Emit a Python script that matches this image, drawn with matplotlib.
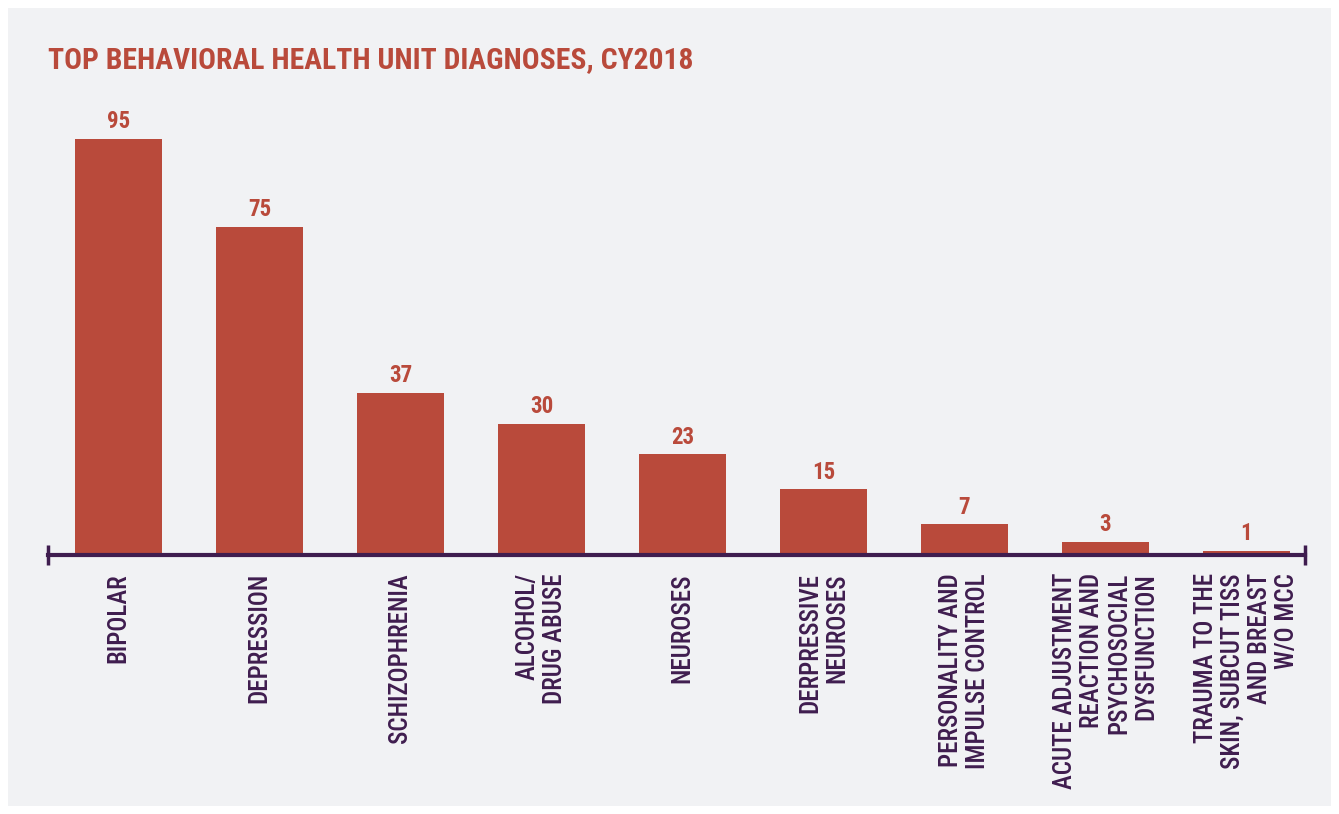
import matplotlib
matplotlib.use('Agg')
import matplotlib.pyplot as plt
from matplotlib.patches import Rectangle

# data
categories = ['BIPOLAR', 'DEPRESSION', 'SCHIZOPHRENIA', 'ALCOHOL/\nDRUG ABUSE', 'NEUROSES',
              'DERPRESSIVE\nNEUROSES', 'PERSONALITY AND\nIMPULSE CONTROL',
              'ACUTE ADJUSTMENT\nREACTION AND\nPSYCHOSOCIAL\nDYSFUNCTION',
              'TRAUMA TO THE\nSKIN, SUBCUT TISS\nAND BREAST\nW/O MCC']
values = [95, 75, 37, 30, 23, 15, 7, 3, 1]
title = 'TOP BEHAVIORAL HEALTH UNIT DIAGNOSES, CY2018'

red = '#B94A3B'
purple = '#3F1D4F'
panel = '#F1F2F4'

plt.rcParams['font.family'] = ['Roboto Condensed', 'DejaVu Sans']
plt.rcParams['font.stretch'] = 'condensed'

fig = plt.figure(figsize=(13.39, 8.14), dpi=100)
fig.patch.set_facecolor('white')
fig.patches.append(Rectangle((8/1339, 8/814), 1323/1339, 798/814, transform=fig.transFigure,
                             facecolor=panel, edgecolor='none', zorder=-10))

fig.text(48/1339, 1 - 60/814, title, color=red, fontsize=21.3, fontweight='bold', va='center', ha='left')

ax = fig.add_axes([48/1339, (814-555)/814, (1305-48)/1339, (555-117)/814])
ax.patch.set_alpha(0)
x = list(range(len(values)))
ax.bar(x, values, width=0.617, color=red, zorder=2)
for xi, v in zip(x, values):
    ax.text(xi, v + 1.3, str(v), ha='center', va='bottom', color=red, fontsize=16.5, fontweight='bold')

ax.set_xlim(-0.5, 8.415)
ax.set_ylim(0, 100)
for s in ['top', 'right', 'left']:
    ax.spines[s].set_visible(False)
ax.spines['bottom'].set_color(purple)
ax.spines['bottom'].set_linewidth(3)
ax.spines['bottom'].set_zorder(3)
ax.vlines([-0.5, 8.415], -2.2, 2.2, color=purple, linewidth=2.5, clip_on=False, zorder=3)

ax.set_yticks([])
ax.set_xticks(x)
ax.set_xticklabels(categories, rotation=90, ha='center', va='top', multialignment='right',
                   color=purple, fontsize=18, fontweight=500, linespacing=1.17)
ax.tick_params(axis='x', length=0, pad=13)

fig.savefig('out.png', dpi=100, facecolor='white')
